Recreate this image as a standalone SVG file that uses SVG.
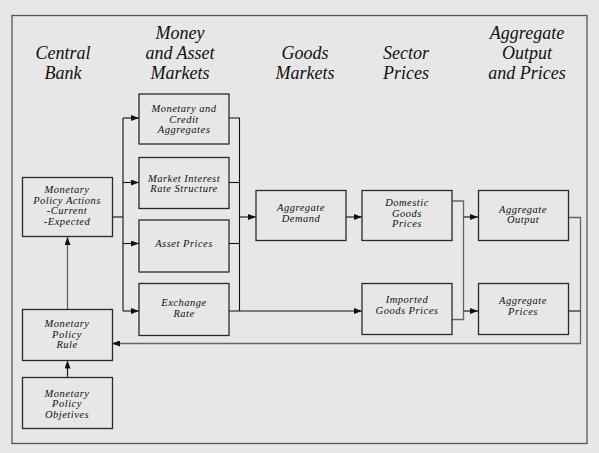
<svg xmlns="http://www.w3.org/2000/svg" width="599" height="453" viewBox="0 0 599 453">
<defs>
<marker id="arr" viewBox="0 0 8 6" refX="8" refY="3" markerWidth="8" markerHeight="6" markerUnits="userSpaceOnUse" orient="auto">
<path d="M0,0 L8,3 L0,6 z" fill="#111"/>
</marker>
</defs>
<style>
.bg{fill:#e7e7e7}
.frame{fill:none;stroke:#555;stroke-width:1.3}
.box{fill:#e7e7e7;stroke:#2a2a2a;stroke-width:1.3}
.hd{font-family:'Liberation Serif','DejaVu Serif',serif;font-style:italic;font-size:18px;fill:#111;text-anchor:middle}
.t{font-family:'Liberation Serif','DejaVu Serif',serif;font-style:italic;font-size:10.5px;letter-spacing:0.5px;fill:#111;text-anchor:middle}
.c{fill:none;stroke:#111;stroke-width:1.1}
.g{fill:none;stroke:#666;stroke-width:1.3}
</style>
<rect class="bg" x="0" y="0" width="599" height="453"/>
<rect class="frame" x="12" y="15.5" width="575" height="428"/>
<g id="headers">
<text class="hd" x="63" y="59">Central</text>
<text class="hd" x="63" y="78.5">Bank</text>
<text class="hd" x="180" y="39">Money</text>
<text class="hd" x="180" y="58.5">and Asset</text>
<text class="hd" x="180" y="78.5">Markets</text>
<text class="hd" x="305" y="58.5">Goods</text>
<text class="hd" x="305" y="78.5">Markets</text>
<text class="hd" x="406" y="58.5">Sector</text>
<text class="hd" x="406" y="78.5">Prices</text>
<text class="hd" x="527" y="39">Aggregate</text>
<text class="hd" x="527" y="58.5">Output</text>
<text class="hd" x="527" y="78.5">and Prices</text>
</g>
<g id="connectors">
<polyline class="c" points="112,217 123,217"/>
<polyline class="c" points="123,118 123,311"/>
<polyline class="c" points="123,118 139,118" marker-end="url(#arr)"/>
<polyline class="c" points="123,182.5 139,182.5" marker-end="url(#arr)"/>
<polyline class="c" points="123,243.5 139,243.5" marker-end="url(#arr)"/>
<polyline class="c" points="123,311 139,311" marker-end="url(#arr)"/>
<polyline class="c" points="229,118 239.5,118 239.5,311"/>
<polyline class="c" points="229,182.5 239.5,182.5"/>
<polyline class="c" points="229,243.5 239.5,243.5"/>
<polyline class="c" points="229,311 362,311" marker-end="url(#arr)"/>
<polyline class="c" points="239.5,217 256,217" marker-end="url(#arr)"/>
<polyline class="c" points="346,217 362,217" marker-end="url(#arr)"/>
<polyline class="g" points="452,201 463.5,201 463.5,319.5 452,319.5"/>
<polyline class="c" points="463.5,217 478,217" marker-end="url(#arr)"/>
<polyline class="c" points="463.5,311 478,311" marker-end="url(#arr)"/>
<polyline class="g" points="569,217.5 580.5,217.5 580.5,343.5 112,343.5"/>
<polyline class="c" points="569,311 580.5,311"/>
<polyline class="c" points="120,343.5 112,343.5" marker-end="url(#arr)"/>
<polyline class="g" points="67.5,309 67.5,237" marker-end="url(#arr)"/>
<polyline class="c" points="67.5,377 67.5,360.5" marker-end="url(#arr)"/>
</g>
<g id="n-actions">
<rect class="box" x="22.5" y="177.5" width="90" height="59"/>
<text class="t" x="67" y="193">Monetary</text>
<text class="t" x="67" y="203.5">Policy Actions</text>
<text class="t" x="67" y="214">-Current</text>
<text class="t" x="67" y="224.5">-Expected</text>
</g>
<g id="n-rule">
<rect class="box" x="22.5" y="309.5" width="90" height="51"/>
<text class="t" x="67" y="326.7">Monetary</text>
<text class="t" x="67" y="337.5">Policy</text>
<text class="t" x="67" y="348.3">Rule</text>
</g>
<g id="n-objectives">
<rect class="box" x="22.5" y="377.5" width="90" height="51"/>
<text class="t" x="67" y="396.7">Monetary</text>
<text class="t" x="67" y="407.3">Policy</text>
<text class="t" x="67" y="418">Objetives</text>
</g>
<g id="n-credit">
<rect class="box" x="139" y="94" width="90" height="50"/>
<text class="t" x="184" y="112">Monetary and</text>
<text class="t" x="184" y="122.5">Credit</text>
<text class="t" x="184" y="133">Aggregates</text>
</g>
<g id="n-interest">
<rect class="box" x="139" y="157.5" width="90" height="51"/>
<text class="t" x="184" y="181.7">Market Interest</text>
<text class="t" x="184" y="192.3">Rate Structure</text>
</g>
<g id="n-asset">
<rect class="box" x="139" y="220" width="90" height="52"/>
<text class="t" x="184" y="247">Asset Prices</text>
</g>
<g id="n-exchange">
<rect class="box" x="139" y="283.5" width="90" height="52"/>
<text class="t" x="184" y="306.3">Exchange</text>
<text class="t" x="184" y="317.3">Rate</text>
</g>
<g id="n-demand">
<rect class="box" x="256" y="190.5" width="90" height="50"/>
<text class="t" x="301" y="210.7">Aggregate</text>
<text class="t" x="301" y="221.7">Demand</text>
</g>
<g id="n-domestic">
<rect class="box" x="362" y="190.5" width="90" height="50"/>
<text class="t" x="407" y="206">Domestic</text>
<text class="t" x="407" y="216.7">Goods</text>
<text class="t" x="407" y="227.3">Prices</text>
</g>
<g id="n-imported">
<rect class="box" x="362" y="283.5" width="90" height="51"/>
<text class="t" x="407" y="303.3">Imported</text>
<text class="t" x="407" y="314">Goods Prices</text>
</g>
<g id="n-output">
<rect class="box" x="478.5" y="190.5" width="90" height="50"/>
<text class="t" x="523" y="212.7">Aggregate</text>
<text class="t" x="523" y="222.7">Output</text>
</g>
<g id="n-prices">
<rect class="box" x="478.5" y="283.5" width="90" height="51"/>
<text class="t" x="523" y="304">Aggregate</text>
<text class="t" x="523" y="314.7">Prices</text>
</g>
</svg>
